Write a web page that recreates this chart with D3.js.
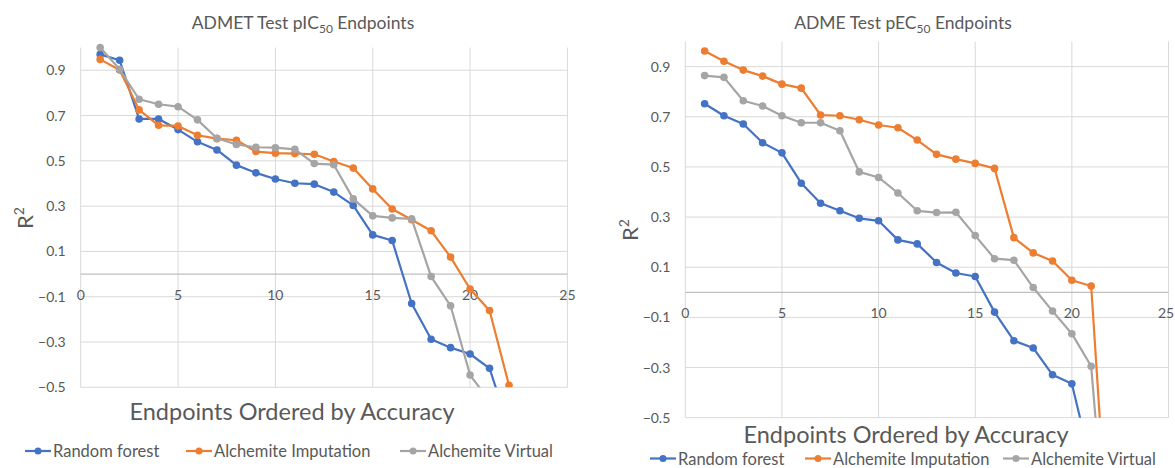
<!DOCTYPE html>
<html>
<head>
<meta charset="utf-8">
<script src="https://cdn.jsdelivr.net/npm/d3@7"></script>
<style>
  body { margin: 0; background: #fff; }
  svg text { font-family: Lato, "Open Sans", sans-serif; fill: #595959; }
</style>
</head>
<body>
<svg id="chart" width="1175" height="468"></svg>
<script>
// 系列名
var seriesNames = ["Random forest", "Alchemite Imputation", "Alchemite Virtual"];
var seriesColors = ["#4472C4", "#ED7D31", "#A5A5A5"];

// 左: ADMET pIC50
var icRandomForest = [0.970, 0.944, 0.685, 0.685, 0.638, 0.584, 0.548, 0.481, 0.447, 0.420, 0.401, 0.397, 0.362, 0.303, 0.173, 0.148, -0.130, -0.288, -0.325, -0.353, -0.416, -0.68];
var icImputation = [0.948, 0.901, 0.725, 0.657, 0.654, 0.613, 0.598, 0.591, 0.541, 0.534, 0.532, 0.529, 0.497, 0.468, 0.376, 0.287, 0.240, 0.191, 0.075, -0.066, -0.161, -0.491];
var icVirtual = [1.000, 0.904, 0.772, 0.750, 0.739, 0.681, 0.600, 0.572, 0.560, 0.558, 0.551, 0.488, 0.483, 0.332, 0.257, 0.248, 0.244, -0.011, -0.140, -0.446, -0.56];

// 右: ADME pEC50
var ecRandomForest = [0.752, 0.704, 0.671, 0.596, 0.556, 0.435, 0.355, 0.325, 0.295, 0.285, 0.209, 0.193, 0.119, 0.077, 0.063, -0.079, -0.193, -0.222, -0.329, -0.365, -0.685];
var ecImputation = [0.962, 0.921, 0.886, 0.862, 0.830, 0.814, 0.707, 0.704, 0.688, 0.667, 0.656, 0.607, 0.550, 0.531, 0.514, 0.494, 0.218, 0.157, 0.125, 0.048, 0.025, -1.16];
var ecVirtual = [0.864, 0.857, 0.764, 0.743, 0.704, 0.676, 0.676, 0.644, 0.480, 0.458, 0.396, 0.325, 0.318, 0.319, 0.226, 0.134, 0.128, 0.019, -0.075, -0.165, -0.295, -1.22];

var xTicks = [0, 5, 10, 15, 20, 25];
var yTicks = [-0.5, -0.3, -0.1, 0.1, 0.3, 0.5, 0.7, 0.9];

var svg = d3.select("#chart");
var svgWidth = 1175;

function drawChart(opt) {
    var x = d3.scaleLinear().domain([0, 25]).range([opt.left, opt.right]);
    var y = d3.scaleLinear().domain([-0.5, 1.0]).range([opt.bottom, opt.top]);
    var g = svg.append("g");

    // クリップ
    g.append("clipPath").attr("id", opt.id + "clip")
        .append("rect")
        .attr("x", opt.left - 6).attr("y", opt.top - 6)
        .attr("width", opt.right - opt.left + 12)
        .attr("height", opt.bottom - opt.top + 6);

    // グリッド
    g.selectAll(".hgrid").data(yTicks).enter().append("line")
        .attr("x1", opt.left).attr("x2", opt.right)
        .attr("y1", function (d) { return y(d); })
        .attr("y2", function (d) { return y(d); })
        .attr("stroke", "#d9d9d9").attr("stroke-width", 1);
    g.selectAll(".vgrid").data(xTicks).enter().append("line")
        .attr("x1", function (d) { return x(d); })
        .attr("x2", function (d) { return x(d); })
        .attr("y1", opt.top).attr("y2", opt.bottom)
        .attr("stroke", "#d9d9d9").attr("stroke-width", 1);
    // 0の軸
    g.append("line")
        .attr("x1", opt.left).attr("x2", opt.right)
        .attr("y1", y(0)).attr("y2", y(0))
        .attr("stroke", "#bfbfbf").attr("stroke-width", 1.2);

    // 目盛りラベル
    g.selectAll(".ylab").data(yTicks).enter().append("text")
        .attr("x", opt.left - 15)
        .attr("y", function (d) { return y(d) + 5; })
        .attr("text-anchor", "end")
        .attr("font-size", "14px")
        .text(function (d) { return d3.format(".1f")(d); });
    g.selectAll(".xlab").data(xTicks).enter().append("text")
        .attr("x", function (d) { return Math.min(x(d), svgWidth - 9); })
        .attr("y", y(0) + 26)
        .attr("text-anchor", "middle")
        .attr("font-size", "14px")
        .text(function (d) { return d; });

    // タイトル
    var title = g.append("text")
        .attr("x", opt.titleX).attr("y", 29)
        .attr("text-anchor", "middle")
        .attr("font-size", "17.5px");
    title.append("tspan").text(opt.titleA);
    title.append("tspan").attr("font-size", "12px").attr("dy", 4).text("50");
    title.append("tspan").attr("dy", -4).text(" Endpoints");

    // R2
    var r2 = g.append("text")
        .attr("transform", "translate(" + opt.r2X + "," + opt.r2Y + ") rotate(-90)")
        .attr("text-anchor", "middle")
        .attr("font-size", "22px");
    r2.append("tspan").text("R");
    r2.append("tspan").attr("font-size", "14px").attr("dy", -9).text("2");

    g.append("text")
        .attr("x", opt.xTitleX).attr("y", opt.xTitleY)
        .attr("text-anchor", "middle")
        .attr("font-size", "23.5px")
        .text("Endpoints Ordered by Accuracy");

    // 折れ線
    var line = d3.line()
        .x(function (d, i) { return x(i + 1); })
        .y(function (d) { return y(d); });
    var plot = g.append("g").attr("clip-path", "url(#" + opt.id + "clip)");
    opt.series.forEach(function (vals, k) {
        plot.append("path")
            .datum(vals)
            .attr("d", line)
            .attr("fill", "none")
            .attr("stroke", seriesColors[k])
            .attr("stroke-width", 2.2)
            .attr("stroke-linejoin", "round");
        plot.selectAll(".pt" + k).data(vals).enter().append("circle")
            .attr("cx", function (d, i) { return x(i + 1); })
            .attr("cy", function (d) { return y(d); })
            .attr("r", 3.8)
            .attr("fill", seriesColors[k]);
    });

    // 凡例
    var leg = g.selectAll(".leg").data(seriesNames).enter().append("g")
        .attr("transform", function (d, i) { return "translate(" + opt.legendX[i] + "," + opt.legendY + ")"; });
    leg.append("line")
        .attr("x1", 0).attr("x2", 26).attr("y1", 0).attr("y2", 0)
        .attr("stroke", function (d, i) { return seriesColors[i]; })
        .attr("stroke-width", 2.2);
    leg.append("circle")
        .attr("cx", 13).attr("cy", 0).attr("r", 3.5)
        .attr("fill", function (d, i) { return seriesColors[i]; });
    leg.append("text")
        .attr("x", 28).attr("y", 6)
        .attr("font-size", "16.5px")
        .text(function (d) { return d; });
}

drawChart({
    id: "ic",
    left: 80.7, right: 567.4, top: 47.6, bottom: 387.3,
    titleA: "ADMET Test pIC", titleX: 303,
    r2X: 33, r2Y: 218,
    xTitleX: 292, xTitleY: 420,
    legendX: [25, 186, 400], legendY: 451,
    series: [icRandomForest, icImputation, icVirtual]
});

drawChart({
    id: "ec",
    left: 685.3, right: 1168.5, top: 41.5, bottom: 417.7,
    titleA: "ADME Test pEC", titleX: 903,
    r2X: 638, r2Y: 230,
    xTitleX: 906, xTitleY: 443,
    legendX: [650, 805, 1003], legendY: 458.5,
    series: [ecRandomForest, ecImputation, ecVirtual]
});
</script>
</body>
</html>
